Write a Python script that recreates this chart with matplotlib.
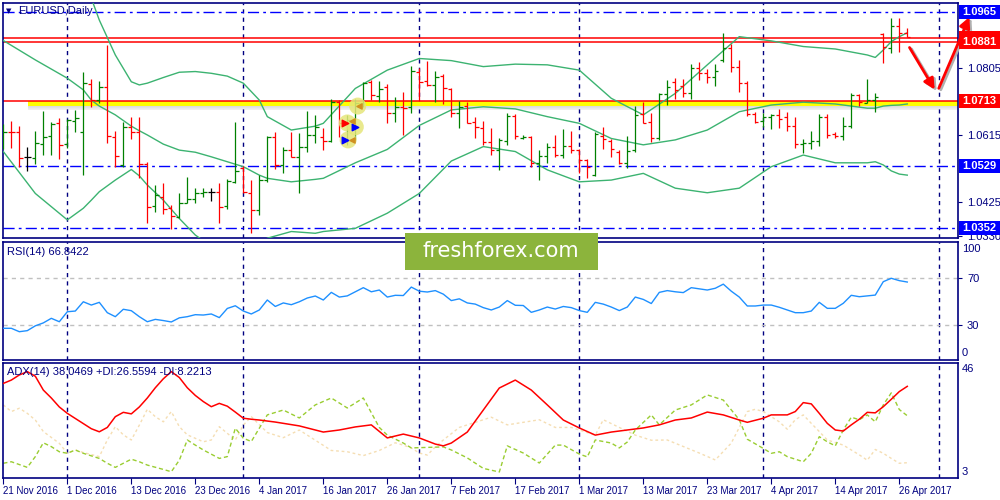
import matplotlib
matplotlib.use("Agg")
import matplotlib.pyplot as plt
import matplotlib.transforms as mtransforms
from matplotlib.patches import Rectangle

plt.rcParams['font.family'] = ['Liberation Sans', 'DejaVu Sans']

NAVY = '#000080'
BLUE = '#0000ff'
RED = '#ff0000'
GREEN = '#008000'
BAND = '#3cb371'

# ---- data ----
date_labels = ['21 Nov 2016', '1 Dec 2016', '13 Dec 2016', '23 Dec 2016', '4 Jan 2017',
               '16 Jan 2017', '26 Jan 2017', '7 Feb 2017', '17 Feb 2017', '1 Mar 2017',
               '13 Mar 2017', '23 Mar 2017', '4 Apr 2017', '14 Apr 2017', '26 Apr 2017']
date_ticks = list(range(0, 113, 8))
month_starts = [8, 30, 52, 72, 95, 117]

opens = [1.0602, 1.0625, 1.0625, 1.0553, 1.0551, 1.0590, 1.0613, 1.0649, 1.0590, 1.0657,
         1.0623, 1.0760, 1.0715, 1.0751, 1.0611, 1.0531, 1.0638, 1.0625, 1.0534, 1.0413,
         1.0441, 1.0408, 1.0384, 1.0424, 1.0433, 1.0450, 1.0453, 1.0455, 1.0413, 1.0483,
         1.0521, 1.0452, 1.0403, 1.0488, 1.0611, 1.0531, 1.0573, 1.0554, 1.0583, 1.0616,
         1.0609, 1.0600, 1.0710, 1.0651, 1.0658, 1.0706, 1.0767, 1.0727, 1.0751, 1.0679,
         1.0694, 1.0694, 1.0796, 1.0769, 1.0758, 1.0783, 1.0746, 1.0679, 1.0698, 1.0654,
         1.0635, 1.0597, 1.0572, 1.0600, 1.0670, 1.0606, 1.0611, 1.0536, 1.0556, 1.0583,
         1.0559, 1.0586, 1.0573, 1.0545, 1.0502, 1.0613, 1.0600, 1.0569, 1.0536, 1.0573,
         1.0675, 1.0654, 1.0608, 1.0732, 1.0767, 1.0755, 1.0736, 1.0805, 1.0793, 1.0780,
         1.0829, 1.0862, 1.0810, 1.0763, 1.0676, 1.0657, 1.0666, 1.0673, 1.0666, 1.0641,
         1.0590, 1.0594, 1.0600, 1.0668, 1.0619, 1.0613, 1.0641, 1.0728, 1.0708, 1.0715,
         1.0903, 1.0862, 1.0925, 1.0904]
highs = [1.0647, 1.0656, 1.0641, 1.0582, 1.0627, 1.0685, 1.0652, 1.0665, 1.0661, 1.0687,
         1.0794, 1.0775, 1.0769, 1.0871, 1.0627, 1.0652, 1.0666, 1.0668, 1.0538, 1.0474,
         1.0481, 1.0417, 1.0450, 1.0498, 1.0466, 1.0466, 1.0465, 1.0481, 1.0491, 1.0652,
         1.0529, 1.0488, 1.0502, 1.0614, 1.0623, 1.0583, 1.0623, 1.0621, 1.0684, 1.0673,
         1.0635, 1.0718, 1.0715, 1.0673, 1.0718, 1.0767, 1.0772, 1.0769, 1.0761, 1.0723,
         1.0737, 1.0812, 1.0805, 1.0826, 1.0798, 1.0789, 1.0748, 1.0712, 1.0710, 1.0666,
         1.0657, 1.0635, 1.0608, 1.0677, 1.0675, 1.0616, 1.0613, 1.0573, 1.0594, 1.0616,
         1.0632, 1.0627, 1.0575, 1.0547, 1.0623, 1.0640, 1.0604, 1.0573, 1.0613, 1.0698,
         1.0710, 1.0677, 1.0736, 1.0772, 1.0777, 1.0775, 1.0816, 1.0822, 1.0802, 1.0816,
         1.0906, 1.0873, 1.0829, 1.0770, 1.0682, 1.0677, 1.0675, 1.0689, 1.0682, 1.0668,
         1.0604, 1.0627, 1.0675, 1.0676, 1.0625, 1.0668, 1.0734, 1.0732, 1.0775, 1.0734,
         1.0906, 1.0947, 1.0947, 1.0919]
lows = [1.0575, 1.0580, 1.0524, 1.0515, 1.0534, 1.0559, 1.0559, 1.0548, 1.0578, 1.0623,
        1.0503, 1.0694, 1.0708, 1.0594, 1.0526, 1.0524, 1.0604, 1.0493, 1.0365, 1.0398,
        1.0391, 1.0348, 1.0379, 1.0422, 1.0422, 1.0441, 1.0430, 1.0367, 1.0405, 1.0481,
        1.0452, 1.0337, 1.0389, 1.0483, 1.0519, 1.0507, 1.0553, 1.0450, 1.0569, 1.0592,
        1.0573, 1.0597, 1.0611, 1.0588, 1.0602, 1.0696, 1.0715, 1.0710, 1.0651, 1.0652,
        1.0616, 1.0677, 1.0713, 1.0755, 1.0709, 1.0704, 1.0666, 1.0635, 1.0649, 1.0606,
        1.0588, 1.0559, 1.0517, 1.0588, 1.0604, 1.0604, 1.0524, 1.0488, 1.0536, 1.0554,
        1.0550, 1.0566, 1.0509, 1.0493, 1.0500, 1.0575, 1.0554, 1.0534, 1.0521, 1.0569,
        1.0649, 1.0597, 1.0602, 1.0701, 1.0718, 1.0723, 1.0718, 1.0772, 1.0763, 1.0755,
        1.0824, 1.0796, 1.0737, 1.0670, 1.0649, 1.0640, 1.0633, 1.0635, 1.0628, 1.0578,
        1.0566, 1.0575, 1.0586, 1.0606, 1.0606, 1.0602, 1.0635, 1.0698, 1.0706, 1.0680,
        1.0819, 1.0850, 1.0852, 1.0893]
closes = [1.0625, 1.0623, 1.0551, 1.0553, 1.0592, 1.0611, 1.0647, 1.0588, 1.0658, 1.0663,
          1.0763, 1.0715, 1.0751, 1.0613, 1.0557, 1.0640, 1.0624, 1.0534, 1.0411, 1.0446,
          1.0405, 1.0386, 1.0422, 1.0433, 1.0452, 1.0453, 1.0453, 1.0411, 1.0486, 1.0515,
          1.0455, 1.0403, 1.0488, 1.0611, 1.0531, 1.0572, 1.0554, 1.0583, 1.0616, 1.0640,
          1.0600, 1.0710, 1.0651, 1.0658, 1.0706, 1.0763, 1.0729, 1.0746, 1.0679, 1.0694,
          1.0692, 1.0798, 1.0767, 1.0758, 1.0780, 1.0748, 1.0679, 1.0694, 1.0651, 1.0638,
          1.0597, 1.0573, 1.0602, 1.0670, 1.0613, 1.0611, 1.0536, 1.0556, 1.0583, 1.0559,
          1.0586, 1.0573, 1.0545, 1.0526, 1.0619, 1.0604, 1.0575, 1.0537, 1.0571, 1.0673,
          1.0651, 1.0608, 1.0732, 1.0751, 1.0744, 1.0736, 1.0805, 1.0793, 1.0780, 1.0798,
          1.0862, 1.0810, 1.0763, 1.0676, 1.0654, 1.0668, 1.0673, 1.0660, 1.0641, 1.0590,
          1.0594, 1.0600, 1.0668, 1.0616, 1.0613, 1.0641, 1.0729, 1.0710, 1.0715, 1.0723,
          1.0867, 1.0925, 1.0904, 1.0895]

# Bollinger bands (20), sampled at these bars
bb_x = [0, 4, 8, 10, 11, 12, 14, 16, 17, 18, 20, 22, 24, 26, 28, 30, 32, 33, 36, 39,
        40, 44, 48, 52, 56, 60, 64, 68, 72, 76, 80, 84, 88, 92, 96, 100, 104, 108,
        109, 110, 111, 112, 113]
bb_up = [1.1180, 1.1165, 1.1120, 1.1050, 1.1004, 1.0942, 1.0843, 1.0767, 1.0758, 1.0763,
         1.0779, 1.0794, 1.0796, 1.0791, 1.0783, 1.0763, 1.0715, 1.0668, 1.0630, 1.0641,
         1.0649, 1.0748, 1.0800, 1.0833, 1.0827, 1.0810, 1.0817, 1.0815, 1.0800, 1.0720,
         1.0673, 1.0734, 1.0815, 1.0895, 1.0883, 1.0867, 1.0860, 1.0843,
         1.0836, 1.0857, 1.0881, 1.0895, 1.0906]
bb_mid = [1.0884, 1.0829, 1.0777, 1.0744, 1.0715, 1.0698, 1.0673, 1.0641, 1.0628, 1.0616,
          1.0590, 1.0573, 1.0567, 1.0554, 1.0540, 1.0526, 1.0502, 1.0493, 1.0483, 1.0490,
          1.0493, 1.0537, 1.0575, 1.0643, 1.0687, 1.0696, 1.0690, 1.0668, 1.0649, 1.0606,
          1.0588, 1.0602, 1.0630, 1.0682, 1.0701, 1.0709, 1.0704, 1.0692,
          1.0692, 1.0698, 1.0700, 1.0701, 1.0704]
bb_low = [1.0569, 1.0450, 1.0375, 1.0408, 1.0431, 1.0455, 1.0488, 1.0518, 1.0500, 1.0474,
          1.0431, 1.0379, 1.0332, 1.0300, 1.0280, 1.0285, 1.0305, 1.0323, 1.0342, 1.0337,
          1.0342, 1.0351, 1.0394, 1.0450, 1.0542, 1.0583, 1.0569, 1.0517, 1.0483, 1.0488,
          1.0507, 1.0465, 1.0452, 1.0465, 1.0526, 1.0559, 1.0537, 1.0537,
          1.0540, 1.0531, 1.0514, 1.0505, 1.0502]

rsi = [27.4, 27.4, 24.5, 25.4, 29.5, 32.0, 35.9, 33.0, 41.5, 42.1,
       50.0, 47.2, 49.5, 40.7, 37.3, 43.6, 42.4, 37.3, 33.0, 35.0,
       34.0, 32.8, 36.3, 37.3, 39.0, 38.7, 39.6, 36.5, 44.3, 46.6,
       42.1, 39.6, 43.0, 51.5, 46.0, 49.0, 47.5, 50.0, 53.2, 54.9,
       51.5, 58.0, 54.0, 55.0, 58.5, 62.0, 58.5, 60.0, 54.0, 55.5,
       55.3, 62.5, 59.0, 58.3, 59.5, 56.5, 51.0, 52.5, 49.0, 48.0,
       45.0, 43.0, 45.5, 51.0, 47.0, 46.8, 41.0, 43.0, 45.5, 43.8,
       46.0, 45.0, 42.5, 41.0, 49.5, 48.0, 45.5, 42.5, 45.5, 54.0,
       52.0, 48.5, 58.0, 59.5, 58.5, 57.8, 62.0, 61.0, 60.0, 61.5,
       65.0, 59.0, 54.0, 46.4, 46.4, 47.2, 47.2, 45.3, 43.0, 40.7,
       40.7, 42.1, 49.5, 44.4, 44.4, 48.7, 55.5, 54.3, 55.0, 55.7,
       67.1, 70.0, 68.0, 66.8]

adx_x = list(range(0, 32)) + [32, 34, 37, 40, 42, 44, 46, 48, 50, 52, 54, 55, 56, 58, 60, 62,
                              64, 66, 68, 70, 72, 74, 76, 78, 80, 82, 84, 86, 88, 90, 92, 93,
                              95, 96, 98, 99, 100, 101, 102, 103, 104, 105, 106, 107, 108,
                              109, 110, 111, 112, 113]
adx = [39.2, 40.5, 42.5, 43.8, 42.0, 36.6, 33.5, 30.0, 27.5, 25.5, 23.5, 21.5, 20.3, 22.0,
       26.2, 27.9, 27.3, 30.0, 33.5, 37.5, 41.0, 43.8, 41.5, 37.5, 34.5, 32.1, 30.1, 31.4,
       30.3, 28.0, 25.6, 25.2,
       24.9, 24.1, 22.6, 20.2, 21.0, 22.2, 23.0, 17.9, 19.4, 17.9, 15.5, 14.8, 15.9, 20.2,
       28.8, 37.4, 40.5, 36.6, 30.8, 24.9, 21.8, 19.0, 20.2, 21.0, 21.8, 23.0, 24.9, 25.7,
       28.0, 26.9, 24.9, 24.0, 25.6, 26.9, 26.9, 28.2, 31.7, 31.2, 27.5, 23.6, 21.0, 20.6,
       23.0, 25.2, 27.9, 27.7, 30.1, 33.0, 36.0, 38.05]

pdi_x = [0, 1, 3, 4, 5, 6, 7, 8, 9, 10, 12, 13, 14, 15, 16, 17, 18, 20, 21, 22, 23, 24, 25,
         27, 28, 29, 30, 31, 33, 35, 37, 39, 41, 43, 45, 47, 48, 50, 51, 55, 56, 58, 60, 62,
         63, 65, 67, 69, 70, 72, 73, 74, 76, 77, 78, 79, 81, 82, 84, 86, 88, 90, 92, 93, 95,
         96, 97, 98, 100, 101, 102, 103, 104, 105, 106, 107, 108, 109, 110, 111, 112, 113]
pdi = [8.0, 8.6, 6.4, 10.6, 16.0, 14.5, 12.5, 11.9, 13.2, 11.9, 9.9, 8.0, 6.4, 8.0, 9.6,
       8.6, 7.3, 5.6, 4.7, 9.2, 17.1, 15.1, 13.2, 9.9, 10.6, 21.7, 17.8, 16.5, 26.9, 28.8,
       25.7, 30.8, 33.5, 29.6, 33.5, 22.0, 19.0, 15.9, 14.0, 14.4, 13.2, 10.1, 6.0, 4.6,
       14.8, 12.0, 8.1, 15.1, 15.1, 11.6, 10.5, 17.1, 15.9, 14.0, 16.3, 21.0, 26.9, 23.0,
       28.8, 30.8, 34.7, 32.7, 25.0, 17.4, 13.8, 11.9, 12.5, 10.6, 8.6, 11.9, 18.4, 16.4,
       14.8, 21.0, 26.0, 25.0, 26.9, 24.2, 30.8, 35.5, 29.0, 26.56]

mdi_x = [0, 1, 2, 3, 4, 5, 7, 8, 9, 10, 12, 13, 14, 15, 16, 17, 18, 19, 20, 21, 22, 23, 25,
         26, 27, 28, 29, 30, 31, 33, 35, 37, 39, 41, 43, 45, 47, 49, 50, 51, 52, 53, 54, 55,
         57, 59, 61, 63, 65, 67, 69, 71, 72, 74, 75, 77, 79, 81, 83, 87, 89, 91, 92, 93, 94,
         95, 97, 98, 99, 100, 101, 102, 103, 105, 106, 107, 108, 109, 110, 111, 112, 113]
mdi = [30.8, 28.2, 29.5, 27.5, 24.9, 20.4, 15.8, 11.9, 13.2, 12.2, 10.6, 17.1, 22.3, 19.1,
       17.1, 22.9, 29.1, 26.2, 24.2, 28.2, 22.3, 19.1, 16.4, 17.1, 22.3, 19.7, 17.1, 22.9,
       26.2, 20.0, 18.0, 21.0, 17.0, 13.0, 12.5, 11.0, 13.0, 16.0, 15.1, 14.0, 12.0, 11.2,
       14.4, 17.1, 22.0, 24.0, 26.0, 23.0, 24.0, 25.0, 22.0, 22.0, 21.0, 19.0, 25.0, 22.0,
       19.0, 17.0, 17.1, 12.0, 9.3, 15.9, 22.0, 28.2, 29.1, 28.2, 24.2, 21.3, 25.0, 26.9,
       23.6, 20.4, 17.1, 15.1, 13.2, 11.3, 9.2, 13.4, 11.9, 9.9, 8.0, 8.22]

level_blue = [1.0965, 1.0529, 1.0352]
level_red = [1.0892, 1.0881, 1.0713]

# ---- layout ----
W, H = 1000, 500
fig = plt.figure(figsize=(10, 5), dpi=100)
fig.patch.set_facecolor('white')


def px_box(x0, y0, x1, y1):
    return [x0 / W, 1 - y1 / H, (x1 - x0) / W, (y1 - y0) / H]


ax = fig.add_axes(px_box(3, 3, 958, 238))
ax_rsi = fig.add_axes(px_box(3, 242, 958, 360))
ax_adx = fig.add_axes(px_box(3, 363, 958, 478))

xlim = (-0.04, 119.34)
for a in (ax, ax_rsi, ax_adx):
    a.set_xlim(*xlim)
    for s in a.spines.values():
        s.set_color(NAVY)
        s.set_linewidth(1.2)
    a.tick_params(axis='both', colors=NAVY, labelcolor=NAVY, labelsize=8, length=3,
                  width=0.8)
    a.yaxis.tick_right()
    a.set_xticks([])
    for m in month_starts:
        a.axvline(m, color=NAVY, lw=1, ls=(0, (3, 3)), zorder=1)

ax.set_ylim(1.03236, 1.09905)
ax_rsi.set_ylim(0.4, 100.9)
ax_adx.set_ylim(2.25, 47.17)

# ---- main panel ----
for lv in level_blue:
    ax.axhline(lv, color=BLUE, lw=1, ls=(0, (8, 3, 2, 3)), zorder=2)

ax.add_patch(Rectangle((3.1, 1.0698), 120, 0.0015, facecolor='#ffff00', edgecolor='none',
                       zorder=1.5))
for k in range(5):
    ax.add_patch(Rectangle((3.1, 1.0698 - 0.00025 * (k + 1)), 120, 0.00025,
                           facecolor='#a0a0a0', alpha=0.35 - 0.06 * k, edgecolor='none',
                           zorder=1.4))
for lv in level_red:
    ax.axhline(lv, color=RED, lw=1.1, zorder=2.5)

ax.plot(bb_x, bb_up, color=BAND, lw=1, zorder=3)
ax.plot(bb_x, bb_mid, color=BAND, lw=1, zorder=3)
ax.plot(bb_x, bb_low, color=BAND, lw=1, zorder=3)

for i, (o, h, l, c) in enumerate(zip(opens, highs, lows, closes)):
    col = GREEN if c > o else (RED if c < o else 'black')
    ax.vlines(i, l, h, color=col, lw=0.9, zorder=4)
    ax.hlines(o, i - 0.4, i, color=col, lw=0.9, zorder=4)
    ax.hlines(c, i, i + 0.4, color=col, lw=0.9, zorder=4)

# signal marks
sig_x = [43.0, 44.0, 43.1, 44.3]
sig_y = [1.0650, 1.0639, 1.0602, 1.0698]
ax.scatter(sig_x, sig_y, s=150, color='#e6e67a', alpha=0.85, edgecolors='none', zorder=5)
ax.scatter([42.7], [1.0651], marker='>', s=22, color=RED, zorder=6)
ax.scatter([43.9, 42.7], [1.0640, 1.0603], marker='>', s=22, color=BLUE, zorder=6)
ax.scatter([43.6, 43.6, 44.5], [1.0655, 1.0602, 1.0697], marker='<', s=14,
           color='#d09020', zorder=6)

ax.set_yticks([1.0805, 1.0615, 1.0425, 1.0330])
ax.set_yticklabels(['1.0805', '1.0615', '1.0425', '1.0330'])

# price boxes on the right (the upper red box is hidden behind 1.0881 in the reference)
btrans = mtransforms.blended_transform_factory(fig.transFigure, ax.transData)
half = 7 / 3523.65
ax.add_patch(Rectangle((959 / W, 1.0892 - half), 41 / W, 2 * half, transform=btrans,
                       facecolor=RED, edgecolor='none', clip_on=False, zorder=10))
boxes = [(1.0881, RED, '1.0881'), (1.0965, BLUE, '1.0965'),
         (1.0713, RED, '1.0713'), (1.0529, BLUE, '1.0529'), (1.0352, BLUE, '1.0352')]
for lv, col, txt in boxes:
    ax.add_patch(Rectangle((959 / W, lv - half), 41 / W, 2 * half, transform=btrans,
                           facecolor=col, edgecolor='none', clip_on=False, zorder=10))
    ax.text(962 / W, lv, txt, transform=btrans, color='white', fontsize=8,
            fontweight='bold', va='center', ha='left', clip_on=False, zorder=11)

# forecast arrows
for dx, dy, c, z in [(0.25, -0.0004, '#b0b0b0', 7), (0, 0, RED, 8)]:
    ax.annotate('', xy=(116.6 + dx, 1.0738 + dy), xytext=(113.1 + dx, 1.0871 + dy),
                arrowprops=dict(arrowstyle='-|>', color=c, lw=2, mutation_scale=16),
                annotation_clip=False, zorder=z)
    ax.annotate('', xy=(120.9 + dx, 1.0958 + dy), xytext=(116.8 + dx, 1.0741 + dy),
                arrowprops=dict(arrowstyle='-|>', color=c, lw=2, mutation_scale=16),
                annotation_clip=False, zorder=z)

fig.text(6 / W, 1 - 11 / H, '\u25bc', color=NAVY, fontsize=5, va='center',
         family='DejaVu Sans')
fig.text(18 / W, 1 - 11 / H, 'EURUSD,Daily', color=NAVY, fontsize=8, va='center')

# ---- RSI panel ----
ax_rsi.axhline(70, color='#c0c0c0', lw=1, ls=(0, (3, 3)))
ax_rsi.axhline(30, color='#c0c0c0', lw=1, ls=(0, (3, 3)))
ax_rsi.plot(range(len(rsi)), rsi, color='#1e90ff', lw=1, zorder=3)
ax_rsi.set_yticks([70, 30])
ax_rsi.set_yticklabels(['70', '30'])
rtrans = mtransforms.blended_transform_factory(fig.transFigure, ax_rsi.transData)
ax_rsi.text(962 / W, 95, '100', transform=rtrans, color=NAVY, fontsize=8, va='center')
ax_rsi.text(962 / W, 6, '0', transform=rtrans, color=NAVY, fontsize=8, va='center')
fig.text(7 / W, 1 - 252 / H, 'RSI(14) 66.8422', color=NAVY, fontsize=8, va='center')

# ---- ADX panel ----
ax_adx.plot(mdi_x, mdi, color='#f5deb3', lw=1, ls=(0, (2, 2)), zorder=2)
ax_adx.plot(pdi_x, pdi, color='#9acd32', lw=1, ls=(0, (3, 2)), zorder=2)
ax_adx.plot(adx_x, adx, color=RED, lw=1.1, zorder=3)
ax_adx.set_yticks([])
atrans = mtransforms.blended_transform_factory(fig.transFigure, ax_adx.transData)
ax_adx.text(962 / W, 44.8, '46', transform=atrans, color=NAVY, fontsize=8, va='center')
ax_adx.text(962 / W, 4.6, '3', transform=atrans, color=NAVY, fontsize=8, va='center')
fig.text(7 / W, 1 - 372 / H, 'ADX(14) 38.0469 +DI:26.5594 -DI:8.2213', color=NAVY,
         fontsize=8, va='center')

ax_adx.set_xticks(date_ticks)
ax_adx.set_xticklabels(date_labels, ha='left')
ax_adx.tick_params(axis='x', length=4, pad=2, labelsize=7)

# ---- watermark ----
fig.patches.append(Rectangle((405 / W, 1 - 270 / H), 193 / W, 37 / H,
                             transform=fig.transFigure, facecolor='#8cb43c',
                             edgecolor='none', zorder=20))
fig.text(501 / W, 1 - 251 / H, 'freshforex.com', color='white', fontsize=15,
         family='DejaVu Sans', ha='center', va='center', zorder=21)

fig.savefig('out.png', dpi=100, facecolor='white')
